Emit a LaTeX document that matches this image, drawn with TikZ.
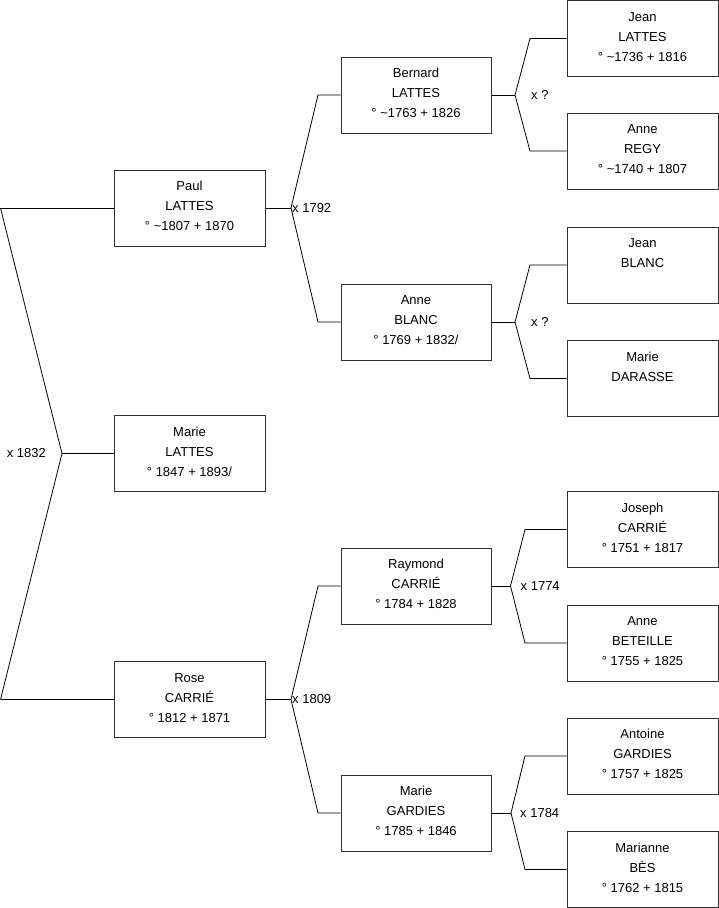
\documentclass[tikz,border=0pt]{standalone}
\usepackage{fontspec}
\setmainfont{Liberation Sans}
\begin{document}
\begin{tikzpicture}[x=1pt,y=-1pt,
  pbox/.style={draw=black!80, line width=1pt, fill=white, minimum width=151pt, minimum height=76pt, inner sep=0pt, align=center, font=\fontsize{13}{20}\selectfont},
  conn/.style={draw=black, line width=0.8pt},
  mlabel/.style={font=\fontsize{13}{15}\selectfont, inner sep=1pt}]
\useasboundingbox[fill=white] (0,0) rectangle (719,908);
\newcommand{\pl}[3]{\strut #1\\\strut #2\\\strut #3\rule[-9pt]{0pt}{1pt}}
% generation 1
\node[pbox] (paul) at (189.5,208) {\pl{Paul}{LATTES}{° \textasciitilde1807 + 1870}};
\node[pbox] (mariel) at (189.5,453.5) {\pl{Marie}{LATTES}{° 1847 + 1893/}};
\node[pbox] (rose) at (189.5,699.5) {\pl{Rose}{CARRIÉ}{° 1812 + 1871}};
% generation 2
\node[pbox, minimum width=150pt] (bernard) at (416,95) {\pl{Bernard}{LATTES}{° \textasciitilde1763 + 1826}};
\node[pbox, minimum width=150pt] (anneb) at (416,322) {\pl{Anne}{BLANC}{° 1769 + 1832/}};
\node[pbox, minimum width=150pt] (raymond) at (416,586) {\pl{Raymond}{CARRIÉ}{° 1784 + 1828}};
\node[pbox, minimum width=150pt] (marieg) at (416,813) {\pl{Marie}{GARDIES}{° 1785 + 1846}};
% generation 3
\node[pbox] (jeanl) at (642.5,38.5) {\pl{Jean}{LATTES}{° \textasciitilde1736 + 1816}};
\node[pbox] (anner) at (642.5,151) {\pl{Anne}{REGY}{° \textasciitilde1740 + 1807}};
\node[pbox] (jeanb) at (642.5,265) {\pl{Jean}{BLANC}{\mbox{}}};
\node[pbox] (maried) at (642.5,378.5) {\pl{Marie}{DARASSE}{\mbox{}}};
\node[pbox] (joseph) at (642.5,529.5) {\pl{Joseph}{CARRIÉ}{° 1751 + 1817}};
\node[pbox] (annebe) at (642.5,643) {\pl{Anne}{BETEILLE}{° 1755 + 1825}};
\node[pbox] (antoine) at (642.5,756) {\pl{Antoine}{GARDIES}{° 1757 + 1825}};
\node[pbox] (marianne) at (642.5,869.5) {\pl{Marianne}{BÈS}{° 1762 + 1815}};
% coordinates
\coordinate (l0t) at (0.5,208);
\coordinate (l0b) at (0.5,699.5);
\coordinate (f0) at (62,453.5);
\coordinate (f1) at (291,208);
\coordinate (f1t) at (318,95);
\coordinate (f1b) at (318,322);
\coordinate (f2) at (291,699.5);
\coordinate (f2t) at (318,586);
\coordinate (f2b) at (318,813);
\coordinate (f3) at (515,95);
\coordinate (f3t) at (530,38.5);
\coordinate (f3b) at (530,151);
\coordinate (f4) at (515,322);
\coordinate (f4t) at (530,265);
\coordinate (f4b) at (530,378.5);
\coordinate (f5) at (510.5,586);
\coordinate (f5t) at (525,529.5);
\coordinate (f5b) at (525,643);
\coordinate (f6) at (511,813);
\coordinate (f6t) at (525,756);
\coordinate (f6b) at (525,869.5);
% connectors
\draw[conn] (l0t) -- (paul.west);
\draw[conn] (l0b) -- (rose.west);
\draw[conn] (l0t) -- (f0) -- (l0b);
\draw[conn] (f0) -- (mariel.west);
\draw[conn] (paul.east) -- (f1);
\draw[conn] (bernard.west) -- (f1t) -- (f1) -- (f1b) -- (anneb.west);
\draw[conn] (rose.east) -- (f2);
\draw[conn] (raymond.west) -- (f2t) -- (f2) -- (f2b) -- (marieg.west);
\draw[conn] (bernard.east) -- (f3);
\draw[conn] (jeanl.west) -- (f3t) -- (f3) -- (f3b) -- (anner.west);
\draw[conn] (anneb.east) -- (f4);
\draw[conn] (jeanb.west) -- (f4t) -- (f4) -- (f4b) -- (maried.west);
\draw[conn] (raymond.east) -- (f5);
\draw[conn] (joseph.west) -- (f5t) -- (f5) -- (f5b) -- (annebe.west);
\draw[conn] (marieg.east) -- (f6);
\draw[conn] (antoine.west) -- (f6t) -- (f6) -- (f6b) -- (marianne.west);
% marriage labels
\node[mlabel, anchor=east] (m0) at ([xshift=-15pt]f0) {x 1832};
\node[mlabel, anchor=west] (m1) at (f1) {x 1792};
\node[mlabel, anchor=west] (m2) at (f2) {x 1809};
\node[mlabel, anchor=west] (m3) at ([xshift=15pt]f3) {x ?};
\node[mlabel, anchor=west] (m4) at ([xshift=15pt]f4) {x ?};
\node[mlabel, anchor=west] (m5) at ([xshift=9pt]f5) {x 1774};
\node[mlabel, anchor=west] (m6) at ([xshift=8pt]f6) {x 1784};
\end{tikzpicture}
\end{document}
